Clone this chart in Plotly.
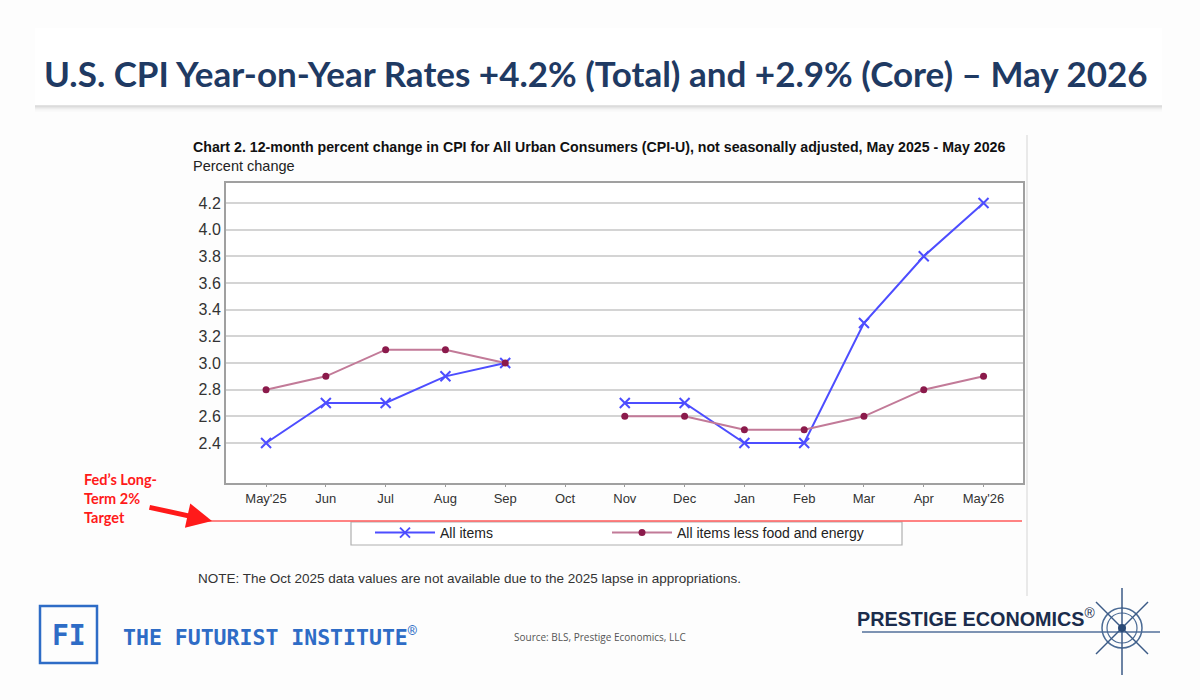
import plotly.graph_objects as go

# ---- data ----
months = ["May'25", "Jun", "Jul", "Aug", "Sep", "Oct", "Nov", "Dec", "Jan", "Feb", "Mar", "Apr", "May'26"]
all_items = [2.4, 2.7, 2.7, 2.9, 3.0, None, 2.7, 2.7, 2.4, 2.4, 3.3, 3.8, 4.2]
core_items = [2.8, 2.9, 3.1, 3.1, 3.0, None, 2.6, 2.6, 2.5, 2.5, 2.6, 2.8, 2.9]
y_ticks = [2.4, 2.6, 2.8, 3.0, 3.2, 3.4, 3.6, 3.8, 4.0, 4.2]

# ---- layout geometry (pixels) ----
W, H = 1200, 700
L, R, T, B = 226, 1023, 183, 483


def px(x):
    return (x - L) / (R - L)


def py(y):
    return (B - y) / (B - T)


fig = go.Figure()
fig.add_trace(go.Scatter(
    x=months, y=all_items, name="All items", mode="lines+markers",
    line=dict(color="#4d4dff", width=2),
    marker=dict(symbol="x-thin", size=10, line=dict(color="#4d4dff", width=2)),
    connectgaps=False, legendwidth=162,
))
fig.add_trace(go.Scatter(
    x=months, y=core_items, name="All items less food and energy", mode="lines+markers",
    line=dict(color="#c27a98", width=2),
    marker=dict(symbol="circle", size=7, color="#8b1a4b"),
    connectgaps=False, legendwidth=230,
))

shapes = []
annotations = []

# header band with shadow
shapes.append(dict(type="rect", xref="paper", yref="paper", x0=px(35), x1=px(1162), y0=py(28), y1=py(105),
                   fillcolor="#ffffff", line=dict(width=0), layer="below"))
for i, c in enumerate(["#c8c8c8", "#d6d6d6", "#e2e2e2", "#ececec", "#f3f3f3", "#f8f8f8"]):
    shapes.append(dict(type="line", xref="paper", yref="paper", x0=px(35), x1=px(1162),
                       y0=py(106 + i), y1=py(106 + i), line=dict(color=c, width=1.2), layer="below"))

# BLS chart panel right edge
shapes.append(dict(type="line", xref="paper", yref="paper", x0=px(1027), x1=px(1027), y0=py(135), y1=py(596),
                   line=dict(color="#e2e2e2", width=1.5), layer="below"))

# legend frame
shapes.append(dict(type="rect", xref="paper", yref="paper", x0=px(351), x1=px(902), y0=py(522), y1=py(545),
                   fillcolor="#ffffff", line=dict(color="#b0b0b0", width=1.2)))

# red 2% target line
shapes.append(dict(type="line", xref="paper", yref="paper", x0=px(208), x1=px(1022), y0=py(521), y1=py(521),
                   line=dict(color="#ff5a5a", width=1.5)))

# FI logo box
shapes.append(dict(type="rect", xref="paper", yref="paper", x0=px(40), x1=px(97), y0=py(606), y1=py(663),
                   line=dict(color="#2e6cc6", width=2.5)))

# Prestige underline + compass
shapes.append(dict(type="line", xref="paper", yref="paper", x0=px(862), x1=px(1160), y0=py(632), y1=py(632),
                   line=dict(color="#7d93b3", width=2)))
cx, cy = 1122, 628
for r, w in [(20, 1.5), (15, 1.2)]:
    shapes.append(dict(type="circle", xref="paper", yref="paper", x0=px(cx - r), x1=px(cx + r),
                       y0=py(cy - r), y1=py(cy + r), line=dict(color="#4a6a94", width=w)))
shapes.append(dict(type="line", xref="paper", yref="paper", x0=px(cx), x1=px(cx), y0=py(588), y1=py(675),
                   line=dict(color="#3b5a86", width=1.5)))
shapes.append(dict(type="line", xref="paper", yref="paper", x0=px(cx - 26), x1=px(cx + 26), y0=py(cy - 26), y1=py(cy + 26),
                   line=dict(color="#3b5a86", width=1.5)))
shapes.append(dict(type="line", xref="paper", yref="paper", x0=px(cx - 26), x1=px(cx + 26), y0=py(cy + 26), y1=py(cy - 26),
                   line=dict(color="#3b5a86", width=1.5)))
shapes.append(dict(type="circle", xref="paper", yref="paper", x0=px(cx - 4), x1=px(cx + 4),
                   y0=py(cy - 4), y1=py(cy + 4), fillcolor="#2b4a76", line=dict(width=0)))

# title
annotations.append(dict(xref="paper", yref="paper", x=px(596), y=py(73), text="<b>U.S. CPI Year-on-Year Rates +4.2% (Total) and +2.9% (Core) – May 2026</b>",
                        showarrow=False, xanchor="center", yanchor="middle",
                        font=dict(family="Lato", size=35, color="#1f3a63")))
# BLS chart title
annotations.append(dict(xref="paper", yref="paper", x=px(191), y=py(147),
                        text="<b>Chart 2. 12-month percent change in CPI for All Urban Consumers (CPI-U), not seasonally adjusted, May 2025 - May 2026</b>",
                        showarrow=False, xanchor="left", yanchor="middle",
                        font=dict(family="Liberation Sans", size=14.2, color="#111111")))
annotations.append(dict(xref="paper", yref="paper", x=px(191), y=py(166), text="Percent change",
                        showarrow=False, xanchor="left", yanchor="middle",
                        font=dict(family="Liberation Sans", size=14.5, color="#222222")))
# note
annotations.append(dict(xref="paper", yref="paper", x=px(196), y=py(578),
                        text="NOTE: The Oct 2025 data values are not available due to the 2025 lapse in appropriations.",
                        showarrow=False, xanchor="left", yanchor="middle",
                        font=dict(family="Liberation Sans", size=13.5, color="#333333")))
# Fed target text + arrow
annotations.append(dict(xref="paper", yref="paper", x=px(82), y=py(499),
                        text="<b>Fed’s Long-<br>Term 2%<br>Target</b>", align="left",
                        showarrow=False, xanchor="left", yanchor="middle",
                        font=dict(family="Lato", size=14.5, color="#ff1a1a")))
annotations.append(dict(xref="paper", yref="paper", x=px(212), y=py(521), ax=-64, ay=-14,
                        axref="pixel", ayref="pixel", text="", showarrow=True,
                        arrowhead=2, arrowsize=1, arrowwidth=5, arrowcolor="#ff1a1a"))
# FI logo text
annotations.append(dict(xref="paper", yref="paper", x=px(68.5), y=py(635), text="<b>FI</b>",
                        showarrow=False, xanchor="center", yanchor="middle",
                        font=dict(family="DejaVu Sans Mono", size=28, color="#2e6cc6")))
annotations.append(dict(xref="paper", yref="paper", x=px(121), y=py(636), text="<b>THE FUTURIST INSTITUTE</b><sup>®</sup>",
                        showarrow=False, xanchor="left", yanchor="middle",
                        font=dict(family="DejaVu Sans Mono", size=21.5, color="#2e6cc6")))
# source
annotations.append(dict(xref="paper", yref="paper", x=px(512), y=py(637), text="Source: BLS, Prestige Economics, LLC",
                        showarrow=False, xanchor="left", yanchor="middle",
                        font=dict(family="Open Sans", size=10, color="#555555")))
# Prestige
annotations.append(dict(xref="paper", yref="paper", x=px(855), y=py(617), text="<b>PRESTIGE ECONOMICS</b><sup>®</sup>",
                        showarrow=False, xanchor="left", yanchor="middle",
                        font=dict(family="Liberation Sans", size=19.8, color="#1b2c4c")))

fig.update_layout(
    width=W, height=H, autosize=False,
    margin=dict(l=L, r=W - R, t=T, b=H - B, pad=0),
    paper_bgcolor="#fdfdfd", plot_bgcolor="#ffffff",
    shapes=shapes, annotations=annotations,
    showlegend=True,
    legend=dict(orientation="h", x=px(370), y=py(517), xanchor="left", yanchor="top",
                bgcolor="rgba(0,0,0,0)", borderwidth=0,
                font=dict(family="Liberation Sans", size=14, color="#222222"),
                itemwidth=60),
    xaxis=dict(type="category", range=[-0.67, 12.66], showgrid=False,
               ticks="outside", ticklen=2, tickcolor="#999999",
               showline=True, linecolor="#a0a0a0", linewidth=2, mirror=True,
               tickfont=dict(family="Liberation Sans", size=13, color="#333333"), zeroline=False),
    yaxis=dict(range=[2.1, 4.35], tickvals=y_ticks, tickformat=".1f",
               showgrid=True, gridcolor="#d4d4d4", gridwidth=2,
               showline=True, linecolor="#a0a0a0", linewidth=2, mirror=True, ticks="",
               tickfont=dict(family="Liberation Sans", size=16, color="#333333"), zeroline=False),
    hovermode=False,
)

fig.write_html("out.html")
